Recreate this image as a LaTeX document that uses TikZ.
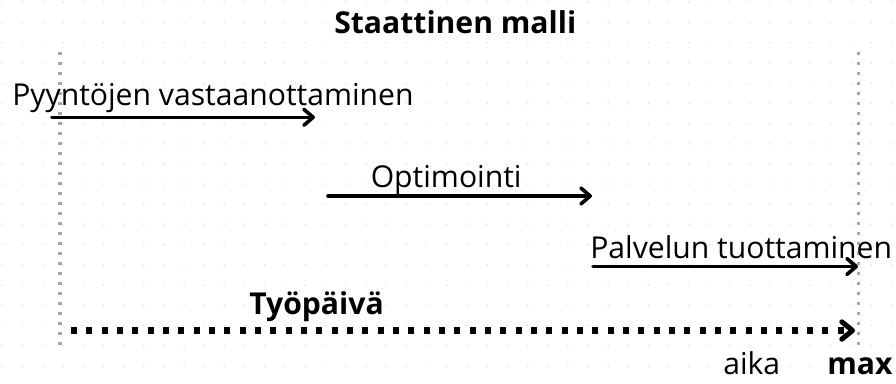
\documentclass[tikz,border=0pt]{standalone}
\usepackage{fontspec}
\setmainfont{Open Sans}
\usetikzlibrary{arrows.meta}
\definecolor{griddot}{HTML}{EBEBEB}
\definecolor{guide}{HTML}{A6A6A6}
\tikzset{
  lbl/.style={anchor=base west, inner sep=0pt, font=\fontsize{22.6}{27}\selectfont},
  blbl/.style={lbl, font=\fontsize{22.6}{27}\selectfont\bfseries},
  phase/.style={line width=2.7pt, line cap=round,
    -{Straight Barb[length=7pt,width=12pt,line cap=round,line join=round]}},
  span/.style={line width=4.6pt, dash pattern=on 4.6pt off 6.9pt,
    -{Straight Barb[length=8pt,width=13pt,line width=3.8pt,line cap=round,line join=round]}},
  guideline/.style={guide, line width=2.4pt, dash pattern=on 2.4pt off 5.1pt}
}
\begin{document}
\begin{tikzpicture}[x=0.75pt,y=-0.75pt]
\useasboundingbox (0,0) rectangle (896,383);
% faint dot grid in the background
\foreach \i in {0,...,44}{
  \foreach \j in {0,...,18}{
    \fill[griddot] (2.3+20.2*\i,2.3+20.2*\j) circle (0.9pt);
  }
}
% time guides at start and end of the day
\coordinate (gl0) at (60,52);
\coordinate (gl1) at (60,345);
\coordinate (gr0) at (858.5,52);
\coordinate (gr1) at (858.5,345);
\draw[guideline] (gl0) -- (gl1);
\draw[guideline] (gr0) -- (gr1);
% title
\node[blbl] (title) at (334,33) {Staattinen malli};
% phases
\node[lbl] (l1) at (12,105) {Pyyntöjen vastaanottaminen};
\coordinate (a1s) at (52,117.3);
\coordinate (a1e) at (315,117.3);
\draw[phase] (a1s) -- (a1e);
\node[lbl] (l2) at (370.5,187) {Optimointi};
\coordinate (a2s) at (328,196);
\coordinate (a2e) at (592,196);
\draw[phase] (a2s) -- (a2e);
\node[lbl] (l3) at (590,258.5) {Palvelun tuottaminen};
\coordinate (a3s) at (593,266.5);
\coordinate (a3e) at (858,266.5);
\draw[phase] (a3s) -- (a3e);
% working day
\node[blbl] (l4) at (249,314) {Työpäivä};
\coordinate (a4s) at (71,330.5);
\coordinate (a4e) at (855,330.5);
\draw[span] (a4s) -- (a4e);
% axis labels
\node[lbl] (aika) at (723,374) {aika};
\node[blbl] (max) at (827,374) {max};
\end{tikzpicture}
\end{document}
